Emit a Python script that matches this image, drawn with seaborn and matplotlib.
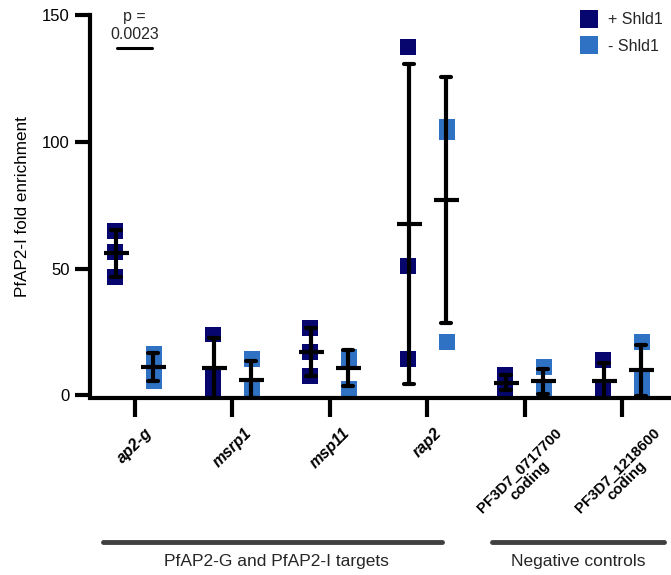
import numpy as np
import pandas as pd
import matplotlib
matplotlib.use("Agg")
import matplotlib.pyplot as plt
import matplotlib.transforms as mtransforms
import seaborn as sns

# data (3 replicates per gene and condition)
genes = ["ap2-g", "msrp1", "msp11", "rap2",
         "PF3D7_0717700\ncoding", "PF3D7_1218600\ncoding"]
conditions = ["+ Shld1", "- Shld1"]
plus_shld1 = [[65, 56.5, 46.5], [24, 7, 1], [26.5, 17, 7.5],
              [137.5, 51, 14.5], [8, 5, 2], [14, 2, 1]]
minus_shld1 = [[16.5, 12, 5.5], [14.5, 3, 1], [15, 14.5, 2.5],
               [106, 104, 21], [11, 3.5, 2], [21, 6.5, 2]]
italic_genes = ["ap2-g", "msrp1", "msp11", "rap2"]

rows = []
for g, a, b in zip(genes, plus_shld1, minus_shld1):
    for v in a:
        rows.append((g, conditions[0], v))
    for v in b:
        rows.append((g, conditions[1], v))
df = pd.DataFrame(rows, columns=["gene", "cond", "value"])

colors = ["#06066e", "#2f72c4"]

sns.set_style("ticks")
plt.rcParams["font.family"] = ["Liberation Sans", "DejaVu Sans"]

fig = plt.figure(figsize=(6.71, 5.75), dpi=100)
ax = fig.add_axes([0.134, 0.308, 0.866, 0.666])

sns.stripplot(data=df, x="gene", y="value", hue="cond", order=genes,
              hue_order=conditions, palette=colors, dodge=True, jitter=False,
              marker="s", size=11.5, linewidth=0, ax=ax, zorder=2)
sns.pointplot(data=df, x="gene", y="value", hue="cond", order=genes,
              hue_order=conditions, palette=["black", "black"], dodge=0.38,
              errorbar="sd", markers="_", markersize=18, markeredgewidth=3,
              linestyles="none", capsize=0.1, err_kws={"linewidth": 3},
              legend=False, ax=ax)
for c in ax.collections:
    c.set_zorder(2)
for l in ax.lines:
    l.set_zorder(4)

ax.set_xlim(-0.46, 5.5)
ax.set_ylim(-1, 150)
ax.set_yticks([0, 50, 100, 150])
ax.tick_params(axis="both", width=3, color="black", labelcolor="black")
ax.tick_params(axis="y", length=11, labelsize=12)
ax.tick_params(axis="x", length=14, pad=6, labelsize=11.5)
for s in ["left", "bottom"]:
    ax.spines[s].set_linewidth(3)
    ax.spines[s].set_color("black")
sns.despine(ax=ax)
ax.spines["left"].set_bounds(0, 150)

ax.set_xticks(range(len(genes)))
ax.set_xticklabels(genes, rotation=45, fontweight="bold")
for t, g in zip(ax.get_xticklabels(), genes):
    if g in italic_genes:
        t.set_style("italic")
    else:
        t.set_fontsize(10.8)
        t.set_linespacing(1.0)
ax.set_xlabel("")
ax.set_ylabel("PfAP2-I fold enrichment", fontsize=12.3, labelpad=9,
              color="black")

ax.legend(frameon=False, loc="upper right", fontsize=11.5, markerscale=1.15,
          bbox_to_anchor=(1.01, 1.045), handletextpad=0.2, labelspacing=0.75)

# significance bar
ax.plot([-0.18, 0.18], [137, 137], color="black", lw=2.2, clip_on=False)
ax.text(0, 139.5, "p =\n0.0023", ha="center", va="bottom", fontsize=11.5)

# group brackets below the axis
trans = mtransforms.blended_transform_factory(ax.transData, fig.transFigure)
ax.plot([-0.33, 3.15], [0.057, 0.057], color="#404040", lw=3.5,
        transform=trans, clip_on=False)
ax.plot([3.66, 5.43], [0.057, 0.057], color="#404040", lw=3.5,
        transform=trans, clip_on=False)
ax.text(1.45, 0.024, "PfAP2-G and PfAP2-I targets", ha="center",
        va="center", fontsize=12.5, transform=trans)
ax.text(4.55, 0.024, "Negative controls", ha="center", va="center",
        fontsize=12.5, transform=trans)

fig.savefig("out.png", dpi=100)
